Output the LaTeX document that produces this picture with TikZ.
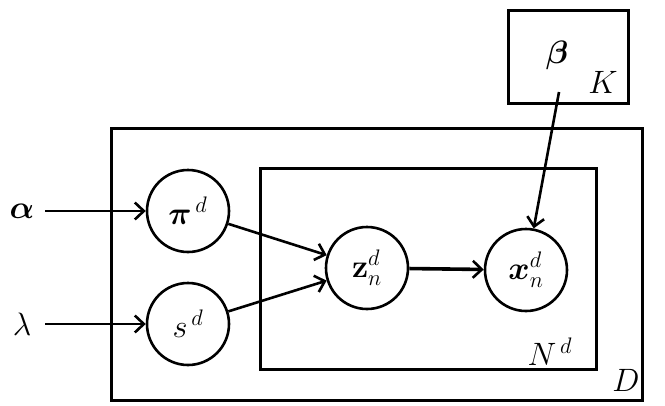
\documentclass[tikz,border=0pt]{standalone}
\usepackage{amsmath,bm}
\usetikzlibrary{arrows.meta}
\newcommand{\mysbx}[1]{\scalebox{1.3}{\fontsize{24}{28}\selectfont #1}}
\begin{document}
\begin{tikzpicture}[x=1pt,y=-1pt,
  var/.style={circle,draw,line width=2.6pt,minimum size=82pt,inner sep=0pt},
  plate/.style={draw,line width=3pt},
  lbl/.style={inner sep=0pt},
  edge/.style={line width=2.6pt,-{Straight Barb[length=9pt,width=17pt,line width=2.6pt]}}]
\useasboundingbox (0,0) rectangle (665,405);
\draw[plate] (111,128) rectangle (642,400);
\draw[plate] (260,168) rectangle (596,369);
\draw[plate] (508,10) rectangle (628,103);
\node[var] (pi) at (188,211) {\mysbx{$\bm{\pi}^{\,d}$}};
\node[var] (s) at (188,324) {\mysbx{$s^{\,d}$}};
\node[var] (z) at (367,268) {\mysbx{$\mathbf{z}_{n}^{d}$}};
\node[var] (x) at (526,270) {\mysbx{$\bm{x}_{n}^{d}$}};
\node[lbl] (alpha) at (22,211) {\mysbx{$\bm{\alpha}$}};
\node[lbl] (lambda) at (22,324) {\mysbx{$\lambda$}};
\node[lbl] (beta) at (557,55) {\mysbx{$\bm{\beta}$}};
\node[lbl] (K) at (603,82) {\mysbx{$K$}};
\node[lbl] (D) at (626,380) {\mysbx{$D$}};
\node[lbl] (N) at (550,352) {\mysbx{$N^{\,d}$}};
\coordinate (a0) at (45,211);
\coordinate (l0) at (45,324);
\coordinate (b0) at (559,92);
\draw[edge] (a0) -- (pi);
\draw[edge] (l0) -- (s);
\draw[edge] (pi) -- (z);
\draw[edge] (s) -- (z);
\draw[edge,line width=3.6pt] (z) -- (x);
\draw[edge] (b0) -- (x);
\end{tikzpicture}
\end{document}
